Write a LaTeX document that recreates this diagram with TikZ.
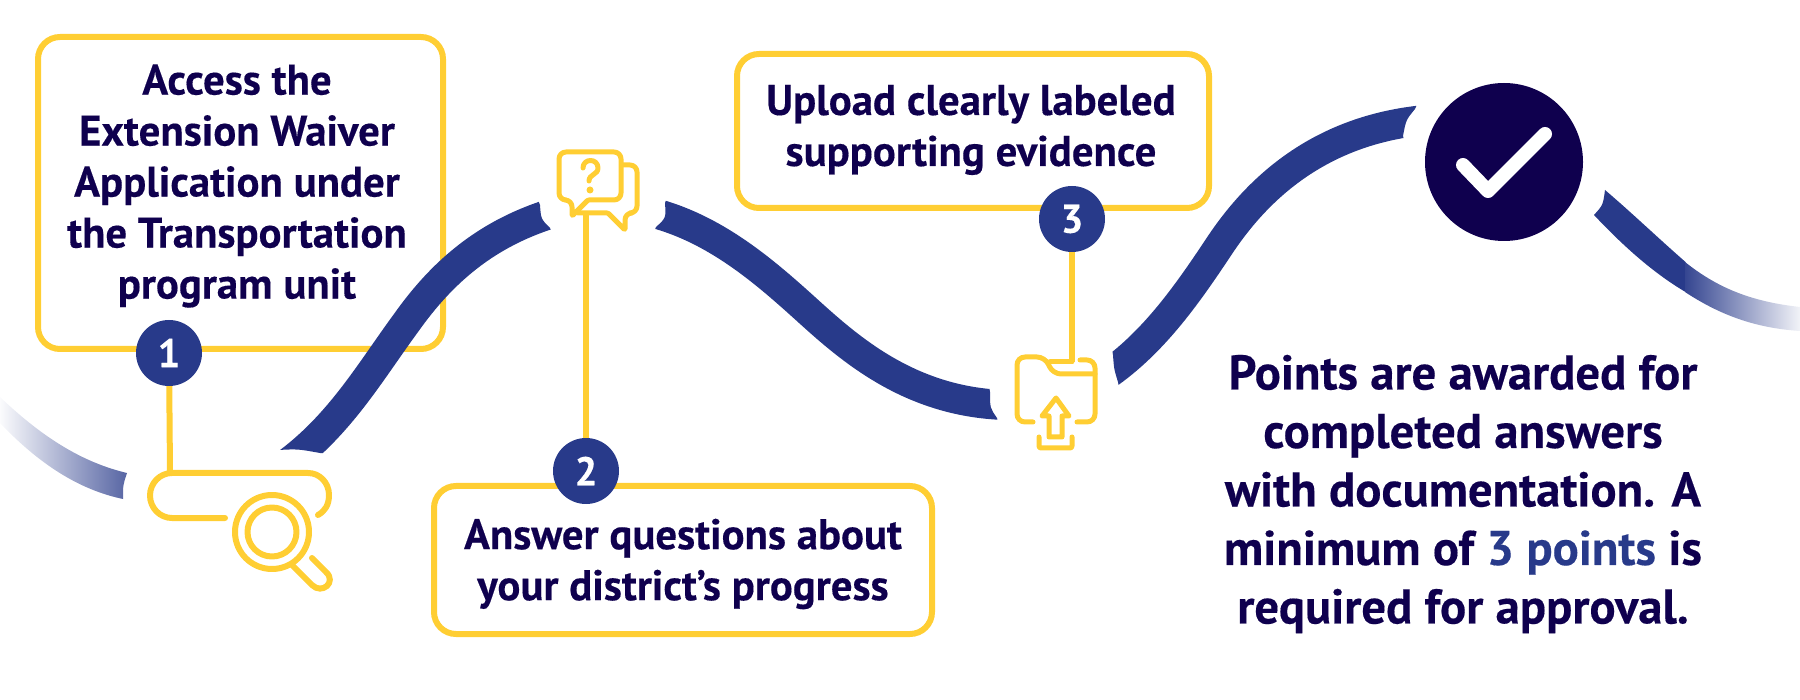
\documentclass[tikz,border=0pt]{standalone}
\usepackage{fontspec}
\setmainfont{PT Sans}[BoldFont={PT Sans Bold},BoldFeatures={FakeBold=0.3}]
\definecolor{navy}{HTML}{0F004E}
\definecolor{rib}{HTML}{283A8A}
\definecolor{gold}{HTML}{FFCE33}
\tikzset{
  ribbon/.style={fill=rib,draw=none},
  ribbonline/.style={draw=rib,line width=30pt},
  card/.style={draw=gold,line width=6pt,rounded corners=22pt,fill=none,inner sep=0pt},
  numdot/.style={circle,fill=rib,minimum size=66pt,inner sep=0pt,text=white,font=\bfseries\fontsize{40}{40}\selectfont},
  smalltxt/.style={align=center,text=navy,inner sep=0pt,font=\bfseries\fontsize{42.8}{51}\selectfont},
  bigtxt/.style={align=center,text=navy,inner sep=0pt,font=\bfseries\fontsize{48.7}{58.5}\selectfont},
  icon/.style={draw=gold,line width=6pt,line cap=round,line join=round},
  iconthin/.style={draw=gold,line width=5pt,line cap=round,line join=round},
  wire/.style={draw=gold,line width=6pt},
}
\begin{document}
\begin{tikzpicture}[x=1pt,y=-1pt]
\useasboundingbox (0,0) rectangle (1800,700);
% cards
\node[card,minimum width=405pt,minimum height=312pt] (box1) at (240.5,193) {};
\node[card,minimum width=498pt,minimum height=148pt] (box2) at (683,560) {};
\node[card,minimum width=472pt,minimum height=154pt] (box3) at (973,131) {};
% texts
\node[smalltxt] (t1) at (237,186) {Access the\\Extension Waiver\\Application under\\the Transportation\\program unit};
\node[smalltxt] (t2) at (683,564) {Answer questions about\\your district’s progress};
\node[smalltxt] (t3) at (971,130) {Upload clearly labeled\\supporting evidence};
\node[bigtxt] (t4) at (1463,494) {Points are awarded for\\completed answers\\with documentation. A\\minimum of \textcolor{rib}{3 points} is\\required for approval.};
% ribbons
\shade[left color=rib!2,right color=rib!78,draw=none]
  (0,397) .. controls (45,440) and (85,463) .. (127,473)
  .. controls (123,485) .. (123,499)
  .. controls (80,490) and (40,465) .. (0,423) -- cycle;
\begin{scope}
  \clip (200,445) -- (278,450) .. controls (298,449) .. (320,453) -- (420,460) -- (600,350) -- (570,274) -- (550,228) .. controls (541,219) .. (540,205) -- (530,180) -- (200,180) -- cycle;
  \draw[ribbonline] (285,465) .. controls (340,425) and (370,372) .. (406,323) .. controls (440,275) and (485,232) .. (560,211);
\end{scope}
\begin{scope}
  \clip (665,203) .. controls (666,218) .. (656,227) -- (645,256) -- (640,300) -- (1000,470) -- (1003,440) -- (997,418) .. controls (990,408) .. (990,392) -- (985,360) -- (680,160) -- cycle;
  \draw[ribbonline] (650,212) .. controls (715,228) and (765,272) .. (807,310) .. controls (850,349) and (910,402) .. (1005,405);
\end{scope}
\begin{scope}
  \clip (1113,355) .. controls (1114,369) .. (1118,382) -- (1125,420) -- (1420,200) -- (1403,136) .. controls (1406,120) .. (1415,109) -- (1430,75) -- (1100,150) -- (1108,325) -- cycle;
  \draw[ribbonline] (1105,376) .. controls (1155,342) and (1190,290) .. (1220,245) .. controls (1258,188) and (1320,130) .. (1425,120);
\end{scope}
\fill[ribbon]
  (1605,190) .. controls (1632,213) and (1658,238) .. (1685.5,262) -- (1685.5,292)
  .. controls (1655,274) and (1625,248) .. (1594,215)
  .. controls (1603,205) .. (1605,190) -- cycle;
\shade[left color=rib!94,right color=rib!6,draw=none]
  (1685,262) .. controls (1720,290) and (1755,302) .. (1800,307) -- (1800,331)
  .. controls (1755,328) and (1720,315) .. (1685,292) -- cycle;
% icon anchors
\coordinate (searchtop) at (170,473);
\coordinate (chatbottom) at (586,215);
\coordinate (foldertop) at (1072,362);
% number dots
\node[numdot] (n1) at (169,353) {1};
\node[numdot] (n2) at (586,471) {2};
\node[numdot] (n3) at (1072,219) {3};
% wires
\draw[wire] (chatbottom) -- (n2);
\draw[wire] (n1) -- (searchtop);
\draw[wire] (foldertop) -- (n3);
% search icon
\draw[icon] (225,518) -- (172,518) .. controls (160,518) and (150,508) .. (150,495.5) .. controls (150,483) and (160,473) .. (172,473) -- (308,473) .. controls (320,473) and (329,483) .. (329,495) .. controls (329,505) and (325,511) .. (318,515);
\draw[icon] (272,532) circle[radius=37];
\draw[icon] (272,532) circle[radius=24.5];
\draw[icon] (292,565) -- (312,585) .. controls (322,595) and (337,582) .. (326,572) -- (312,558);
% chat icon
\draw[iconthin,rounded corners=7pt] (588,200) -- (621,200) -- (621,152) -- (559,152) -- (559,200) -- (572,200) [rounded corners=1pt] -- (572,216) -- cycle;
\draw[iconthin,rounded corners=7pt] (623,165) -- (637,165) -- (637,213) -- (625,213) [rounded corners=1pt] -- (625,230) -- (608,213) -- (578,213);
\draw[iconthin] (583,168) .. controls (583,158) and (598,158) .. (598,168) .. controls (598,175) and (589,174) .. (589,181);
\fill[gold] (590,190) circle[radius=3.5];
% folder icon
\draw[iconthin,rounded corners=8pt] (1033,422) -- (1017,422) -- (1017,357) -- (1045,357) -- (1053,374) -- (1095,374);
\draw[iconthin] (1050,362) -- (1072,362);
\draw[iconthin,rounded corners=8pt] (1080,360) -- (1095,360) -- (1095,422) -- (1077,422);
\draw[iconthin] (1056,398) -- (1042,416) -- (1049,416) -- (1049,437) -- (1062,437) -- (1062,416) -- (1069,416) -- cycle;
\draw[iconthin,rounded corners=2pt] (1039,437) -- (1039,448) -- (1072,448) -- (1072,437);
% check
\node[circle,fill=navy,minimum size=158pt,inner sep=0pt] (done) at (1504,162) {};
\draw[draw=white,line width=14pt,line cap=round,line join=round] (1463,165) -- (1488,191) -- (1545,134);
\end{tikzpicture}
\end{document}
